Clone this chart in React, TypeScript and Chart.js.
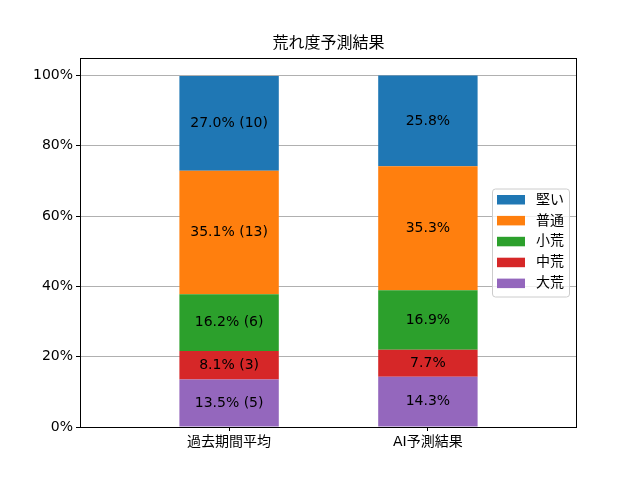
import { useEffect, useRef } from "react";
import { Chart, registerables } from "chart.js";

Chart.register(...registerables);

const categories = ["過去期間平均", "AI予測結果"];
const seriesNames = ["大荒", "中荒", "小荒", "普通", "堅い"];
const seriesColors = ["#9467bd", "#d62728", "#2ca02c", "#ff7f0e", "#1f77b4"];
const pastPct = [13.5, 8.1, 16.2, 35.1, 27.0];
const pastCounts = [5, 3, 6, 13, 10];
const aiPct = [14.3, 7.7, 16.9, 35.3, 25.8];
const yTicks = [0, 20, 40, 60, 80, 100];
const title = "荒れ度予測結果";

const FONT = "'DejaVu Sans', 'Noto Sans CJK JP', sans-serif";

const extrasPlugin = {
  id: "extras",
  afterDatasetsDraw(chart: any) {
    const ctx = chart.ctx;
    ctx.save();
    ctx.font = `14px ${FONT}`;
    ctx.fillStyle = "#000";
    ctx.textAlign = "center";
    ctx.textBaseline = "middle";
    chart.data.datasets.forEach((ds: any, i: number) => {
      const meta = chart.getDatasetMeta(i);
      meta.data.forEach((bar: any, j: number) => {
        const { x, y, base } = bar.getProps(["x", "y", "base"], true);
        const count = ds.counts[j];
        const text =
          ds.data[j].y.toFixed(1) + "%" + (count != null ? ` (${count})` : "");
        ctx.fillText(text, x, (y + base) / 2);
      });
    });
    ctx.restore();
  },
  afterDraw(chart: any) {
    const ctx = chart.ctx;
    const { left, right, top, bottom } = chart.chartArea;
    ctx.save();

    // axes frame, drawn over the bars like matplotlib spines
    ctx.strokeStyle = "#000";
    ctx.lineWidth = 1;
    const l = Math.round(left) + 0.5;
    const t = Math.round(top) + 0.5;
    const r = Math.round(right) - 0.5;
    const b = Math.round(bottom) + 0.5;
    ctx.strokeRect(l, t, r - l, b - t);

    // title
    ctx.font = `16px ${FONT}`;
    ctx.fillStyle = "#000";
    ctx.textAlign = "center";
    ctx.textBaseline = "middle";
    ctx.fillText(title, (left + right) / 2, top - 14.5);

    // legend
    const w = 77;
    const h = 108;
    const lx = right - 8 - w;
    const ly = (top + bottom) / 2 - h / 2;
    ctx.beginPath();
    ctx.roundRect(lx + 0.5, ly + 0.5, w, h, 3);
    ctx.fillStyle = "rgba(255,255,255,0.8)";
    ctx.fill();
    ctx.strokeStyle = "#cccccc";
    ctx.stroke();
    ctx.font = `14px ${FONT}`;
    ctx.textAlign = "left";
    const order = [...seriesNames.keys()].reverse();
    order.forEach((k, row) => {
      const cy = ly + 11 + row * 20.9;
      ctx.fillStyle = seriesColors[k];
      ctx.fillRect(lx + 5, cy - 4.5, 28, 9.5);
      ctx.fillStyle = "#000";
      ctx.fillText(seriesNames[k], lx + 44, cy + 0.5);
    });
    ctx.restore();
  },
};

export default function App() {
  const canvasRef = useRef<HTMLCanvasElement | null>(null);

  useEffect(() => {
    document.body.style.margin = "0";
    if (!canvasRef.current) {
      return;
    }

    const chart = new Chart(canvasRef.current, {
      type: "bar",
      data: {
        datasets: seriesNames.map((name, k) => ({
          label: name,
          data: [
            { x: 0, y: pastPct[k] },
            { x: 1, y: aiPct[k] },
          ],
          counts: [pastCounts[k], null],
          backgroundColor: seriesColors[k],
          borderWidth: 0,
          barPercentage: 0.5,
          categoryPercentage: 1,
        })) as any,
      },
      options: {
        animation: false,
        responsive: true,
        maintainAspectRatio: false,
        layout: { padding: { top: 58, right: 63, bottom: 0, left: 0 } },
        scales: {
          x: {
            type: "linear",
            stacked: true,
            offset: false,
            min: -0.75,
            max: 1.75,
            afterBuildTicks: (scale: any) => {
              scale.ticks = categories.map((_, i) => ({ value: i }));
            },
            afterFit: (scale: any) => {
              scale.height = 53;
            },
            ticks: {
              callback: (v: any) => categories[v] ?? "",
              color: "#000",
              padding: 3,
              maxRotation: 0,
              font: { family: FONT, size: 14 },
            },
            grid: {
              offset: false,
              drawOnChartArea: false,
              drawTicks: true,
              tickLength: 4,
              tickColor: "#000",
            },
            border: { display: false },
          },
          y: {
            stacked: true,
            min: 0,
            max: 105,
            afterBuildTicks: (scale: any) => {
              scale.ticks = yTicks.map((v) => ({ value: v }));
            },
            afterFit: (scale: any) => {
              scale.width = 80;
            },
            ticks: {
              callback: (v: any) => `${v}%`,
              color: "#000",
              padding: 3,
              font: { family: FONT, size: 14 },
            },
            grid: {
              color: (c: any) => (c.tick && c.tick.value === 0 ? "rgba(0,0,0,0)" : "#b0b0b0"),
              lineWidth: 1,
              tickLength: 4,
              tickColor: "#000",
            },
            border: { display: false },
          },
        },
        plugins: {
          legend: { display: false },
          title: { display: false },
          tooltip: { enabled: false },
        },
      },
      plugins: [extrasPlugin],
    });

    return () => chart.destroy();
  }, []);

  return (
    <div style={{ width: 640, height: 480, position: "relative" }}>
      <canvas ref={canvasRef} />
    </div>
  );
}
